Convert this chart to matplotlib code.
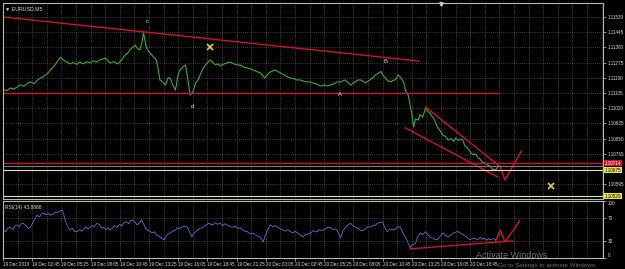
import matplotlib
matplotlib.use('Agg')
import matplotlib.pyplot as plt
import matplotlib.transforms as mtransforms

plt.rcParams['font.family'] = ['Liberation Sans', 'DejaVu Sans']

# EURUSD M5 close prices (bar index, price)
price_bar = [0, 4, 8, 12, 16, 19, 23, 27, 30, 34, 38, 41, 45, 49, 52, 55, 57, 60, 63, 66,
             70, 73, 77, 81, 84, 88, 92, 95, 99, 103, 106, 110, 112, 115, 117, 121, 126, 130, 134, 137,
             139, 142, 145, 147, 150, 152, 154, 156, 157, 160, 163, 166, 168, 170, 172, 175, 178, 181, 183, 186,
             189, 192, 194, 197, 200, 202, 205, 208, 211, 214, 216, 219, 222, 225, 227, 230, 233, 236, 238, 241,
             245, 249, 253, 257, 260, 264, 268, 271, 275, 279, 282, 285, 287, 290, 293, 296, 298, 301, 304, 308,
             312, 315, 319, 322, 326, 330, 333, 337, 340, 344, 348, 352, 355, 359, 363, 366, 370, 373, 375, 378,
             381, 385, 389, 392, 395, 397, 401, 405, 408, 411, 414, 417, 419, 422, 425, 428, 430, 433, 436, 439,
             441, 444, 446, 448, 450, 452, 455, 457, 460, 463, 466, 468, 470, 472, 474, 476, 479, 482, 485, 488,
             491, 494, 496, 499, 502, 504, 506, 509, 512, 515, 518, 520, 523, 525, 528, 531, 534, 536, 538, 540,
             542]
price_val = [1.11125, 1.11118, 1.11133, 1.11128, 1.11140, 1.11150, 1.11143, 1.11160, 1.11167, 1.11158,
             1.11178, 1.11189, 1.11200, 1.11215, 1.11234, 1.11250, 1.11262, 1.11285, 1.11305, 1.11290,
             1.11278, 1.11268, 1.11275, 1.11265, 1.11278, 1.11268, 1.11280, 1.11273, 1.11285, 1.11278,
             1.11290, 1.11296, 1.11301, 1.11285, 1.11273, 1.11280, 1.11268, 1.11290, 1.11318, 1.11330,
             1.11346, 1.11360, 1.11373, 1.11355, 1.11346, 1.11380, 1.11441, 1.11390, 1.11360, 1.11335,
             1.11318, 1.11300, 1.11290, 1.11240, 1.11178, 1.11165, 1.11150, 1.11190, 1.11189, 1.11150,
             1.11122, 1.11210, 1.11234, 1.11250, 1.11262, 1.11200, 1.11094, 1.11111, 1.11160, 1.11180,
             1.11206, 1.11240, 1.11262, 1.11280, 1.11290, 1.11275, 1.11262, 1.11268, 1.11255, 1.11265,
             1.11272, 1.11278, 1.11268, 1.11262, 1.11262, 1.11250, 1.11245, 1.11240, 1.11232, 1.11223,
             1.11218, 1.11200, 1.11189, 1.11210, 1.11223, 1.11230, 1.11234, 1.11225, 1.11218, 1.11206,
             1.11195, 1.11189, 1.11185, 1.11178, 1.11178, 1.11170, 1.11167, 1.11167, 1.11160, 1.11155,
             1.11144, 1.11150, 1.11145, 1.11150, 1.11158, 1.11167, 1.11167, 1.11175, 1.11178, 1.11165,
             1.11150, 1.11165, 1.11178, 1.11178, 1.11170, 1.11161, 1.11175, 1.11189, 1.11206, 1.11215,
             1.11225, 1.11200, 1.11189, 1.11172, 1.11167, 1.11178, 1.11178, 1.11206, 1.11190, 1.11167,
             1.11120, 1.11094, 1.11040, 1.10990, 1.10915, 1.10960, 1.10954, 1.10985, 1.10970, 1.11021,
             1.11000, 1.10993, 1.10975, 1.10965, 1.10940, 1.10915, 1.10895, 1.10870, 1.10862, 1.10842,
             1.10850, 1.10835, 1.10854, 1.10840, 1.10848, 1.10842, 1.10810, 1.10798, 1.10775, 1.10759,
             1.10765, 1.10747, 1.10735, 1.10719, 1.10715, 1.10703, 1.10695, 1.10680, 1.10678, 1.10675,
             1.10691]

# RSI(14) (bar index, value)
rsi_bar = [0, 3, 5, 8, 11, 13, 15, 18, 20, 22, 25, 28, 30, 33, 35, 37, 40, 42, 44, 47,
           50, 52, 55, 57, 59, 62, 65, 67, 68, 70, 73, 76, 78, 81, 84, 86, 88, 91, 93, 95,
           98, 100, 103, 106, 108, 110, 113, 115, 117, 120, 122, 125, 128, 130, 132, 135, 138, 140, 142, 145,
           147, 150, 152, 154, 156, 158, 161, 163, 166, 168, 170, 172, 174, 176, 178, 180, 183, 186, 189, 191,
           193, 196, 199, 202, 204, 207, 209, 211, 213, 216, 219, 222, 225, 228, 230, 233, 235, 238, 241, 243,
           246, 249, 252, 255, 257, 260, 263, 265, 268, 271, 274, 277, 280, 282, 284, 285, 287, 290, 292, 293,
           296, 298, 301, 304, 307, 310, 312, 315, 318, 320, 323, 326, 329, 331, 334, 337, 340, 342, 344, 347,
           349, 351, 354, 356, 359, 362, 364, 366, 368, 370, 372, 373, 376, 378, 381, 383, 385, 388, 390, 392,
           395, 398, 400, 403, 406, 408, 410, 413, 416, 418, 421, 423, 425, 428, 431, 433, 436, 438, 441, 443,
           446, 448, 450, 452, 454, 457, 460, 463, 465, 468, 471, 473, 476, 479, 482, 485, 488, 491, 494, 497,
           499, 502, 505, 508, 510, 512, 515, 518, 520, 523, 525, 527, 530, 532, 534, 537, 540, 542, 543]
rsi_val = [49, 46, 52, 54, 50, 56, 58, 55, 60, 61, 57, 52, 54, 63, 68, 75, 72, 77, 79, 76,
           78, 75, 77, 80, 79, 82, 84, 74, 67, 58, 49, 52, 47, 46, 50, 47, 49, 55, 51, 53,
           57, 55, 61, 58, 52, 54, 50, 53, 49, 52, 57, 54, 59, 56, 61, 64, 60, 66, 67, 62,
           58, 63, 67, 60, 53, 49, 47, 44, 46, 41, 39, 37, 35, 32, 36, 41, 44, 47, 49, 53,
           51, 54, 56, 54, 47, 37, 43, 46, 49, 52, 54, 57, 61, 59, 58, 62, 59, 61, 57, 60,
           58, 55, 54, 56, 52, 53, 49, 47, 46, 42, 44, 40, 38, 37, 31, 28, 38, 49, 55, 58,
           55, 57, 54, 51, 49, 47, 50, 46, 44, 47, 44, 40, 37, 41, 42, 44, 48, 46, 46, 50,
           48, 49, 52, 54, 53, 50, 51, 49, 42, 35, 45, 49, 55, 58, 61, 57, 55, 53, 51, 48,
           49, 52, 55, 54, 58, 57, 61, 62, 63, 55, 46, 49, 51, 49, 52, 55, 53, 45, 37, 30,
           18, 22, 24, 26, 35, 44, 41, 46, 42, 37, 35, 33, 32, 38, 44, 40, 37, 41, 44, 46,
           46, 43, 40, 37, 34, 32, 35, 34, 32, 36, 33, 35, 31, 34, 32, 34, 32, 37, 44]

price_ticks = [1.11530, 1.11445, 1.11360, 1.11275, 1.11190, 1.11105,
               1.11020, 1.10935, 1.10850, 1.10765, 1.10595]
time_label_bars = [0, 32, 64, 96, 128, 160, 192, 224, 256, 288, 320, 352, 384, 416, 448, 480, 512]
time_labels = ['19 Dec 2019', '19 Dec 02:45', '19 Dec 05:25', '19 Dec 08:05', '19 Dec 10:45',
               '19 Dec 13:25', '19 Dec 16:05', '19 Dec 18:45', '19 Dec 21:25', '20 Dec 00:05',
               '20 Dec 02:45', '20 Dec 05:25', '20 Dec 08:05', '20 Dec 10:45', '20 Dec 13:25',
               '20 Dec 16:05', '20 Dec 18:45']

# drawn objects: (bars, prices)
trend_top = ([0, 455], [1.11530, 1.11284])
support = ([0, 542], [1.11105, 1.11105])
channel_up = ([463, 545], [1.11027, 1.10692])
channel_low = ([441, 542], [1.10910, 1.10636])
zigzag = ([545, 550, 568], [1.10692, 1.10619, 1.10781])
red_level = 1.10714
bid_level = 1.10697
yellow_levels = [1.10675, 1.10529]
x_marks = ([227, 600], [1.11362, 1.10585])
wave_labels = [('c', 158, 1.11502), ('d', 208, 1.11032), ('A', 369, 1.11098), ('B', 419, 1.11280)]

rsi_trend = ([446, 558], [16, 30])
rsi_zigzag = ([540, 545, 550, 566], [30, 49, 28, 65])

bg = 'black'
grid_c = '#6e6e6e'
frame_c = '#b8b8b8'
txt_c = '#d8d8d8'
red = '#d0122e'

fig = plt.figure(figsize=(6.25, 2.69), dpi=100, facecolor=bg)
ax = fig.add_axes([3 / 625, 1 - 199 / 269, 600 / 625, 196 / 269], facecolor=bg)
ax2 = fig.add_axes([3 / 625, 1 - 258 / 269, 600 / 625, 57 / 269], facecolor=bg)

xmax = 657.5
for a in (ax, ax2):
    a.set_xlim(0, xmax)
    for s in a.spines.values():
        s.set_color(frame_c)
        s.set_linewidth(0.8)
    a.set_xticks(range(16, 660, 16), minor=True)
    a.grid(True, which='both', color=grid_c, linestyle=(0, (1, 2)), linewidth=0.5)
    a.yaxis.tick_right()
    a.tick_params(axis='y', colors=frame_c, labelcolor=txt_c, labelsize=3.3,
                  length=2, width=0.5, pad=1.5)
    a.tick_params(axis='x', which='minor', length=0)

# main price panel
ax.set_ylim(1.10513, 1.11608)
ax.set_yticks(price_ticks)
ax.set_yticklabels(['%.5f' % p for p in price_ticks])
ax.set_xticks(time_label_bars)
ax.tick_params(axis='x', labelbottom=False, length=0)

ax.plot(price_bar, price_val, color='#3fa83f', linewidth=0.8)
ax.plot(*trend_top, color=red, linewidth=1.0)
ax.plot(*support, color=red, linewidth=1.0)
ax.plot(*channel_up, color=red, linewidth=1.0)
ax.plot(*channel_low, color=red, linewidth=1.0)
ax.plot(*zigzag, color=red, linewidth=1.0)
ax.axhline(red_level, color=red, linewidth=1.0)
ax.axhline(bid_level, color='#6f8296', linewidth=0.7)
for lv in yellow_levels:
    ax.axhline(lv, color='#e6dfb4', linewidth=0.8)
ax.plot(*x_marks, linestyle='none', marker='x', color='#e6cf3c', markersize=5, markeredgewidth=1.2)
for t, b, p in wave_labels:
    ax.text(b, p, t, color='#e0e0e0', fontsize=4.2, ha='center', va='center')

# price labels on the right scale
trans = mtransforms.blended_transform_factory(ax.transAxes, ax.transData)
ax.text(1.003, red_level, '%.5f' % red_level, transform=trans, fontsize=3.3, color='white',
        va='center', ha='left', bbox=dict(facecolor='#d0122e', edgecolor='none', pad=0.4))
ax.text(1.003, yellow_levels[0], '%.5f' % yellow_levels[0], transform=trans, fontsize=3.3, color='black',
        va='center', ha='left', bbox=dict(facecolor='#f0e640', edgecolor='none', pad=0.4))
ax.text(1.003, yellow_levels[1], '%.5f' % yellow_levels[1], transform=trans, fontsize=3.3, color='black',
        va='center', ha='left', bbox=dict(facecolor='#f0e640', edgecolor='none', pad=0.4))

ax.text(0.003, 0.985, '\u25bc EURUSD,M5', transform=ax.transAxes, color=txt_c, fontsize=3.8,
        ha='left', va='top')
ax.plot([480 / xmax], [0.995], transform=ax.transAxes, marker='v', color='#d8d8d8',
        markersize=2.5, clip_on=False)

# RSI panel
ax2.set_ylim(0, 100)
ax2.plot(rsi_bar, rsi_val, color='#5a74c4', linewidth=0.6)
ax2.plot(*rsi_trend, color=red, linewidth=1.0)
ax2.plot(*rsi_zigzag, color=red, linewidth=1.0)
ax2.set_yticks([0, 30, 70, 100])
ax2.set_yticklabels(['0', '30', '70', '100'])
ylabs = ax2.get_yticklabels()
ylabs[0].set_va('bottom')
ylabs[-1].set_va('top')
ax2.set_xticks(time_label_bars)
ax2.set_xticklabels(time_labels, ha='left')
ax2.tick_params(axis='x', colors=frame_c, labelcolor=txt_c, labelsize=3.3, length=2, width=0.5, pad=1)
ax2.text(0.004, 0.93, 'RSI(14) 43.8888', transform=ax2.transAxes, color=txt_c, fontsize=3.6,
         ha='left', va='top')

# Windows watermark
fig.text(476 / 625, 1 - 256 / 269, 'Activate Windows', color='#8a8a8a', fontsize=6.5,
         ha='left', va='center', alpha=0.8)
fig.text(498 / 625, 1 - 266 / 269, 'Go to Settings to activate Windows.', color='#8a8a8a', fontsize=4.5,
         ha='left', va='center', alpha=0.8)

fig.savefig('out.png', dpi=100, facecolor=bg)
